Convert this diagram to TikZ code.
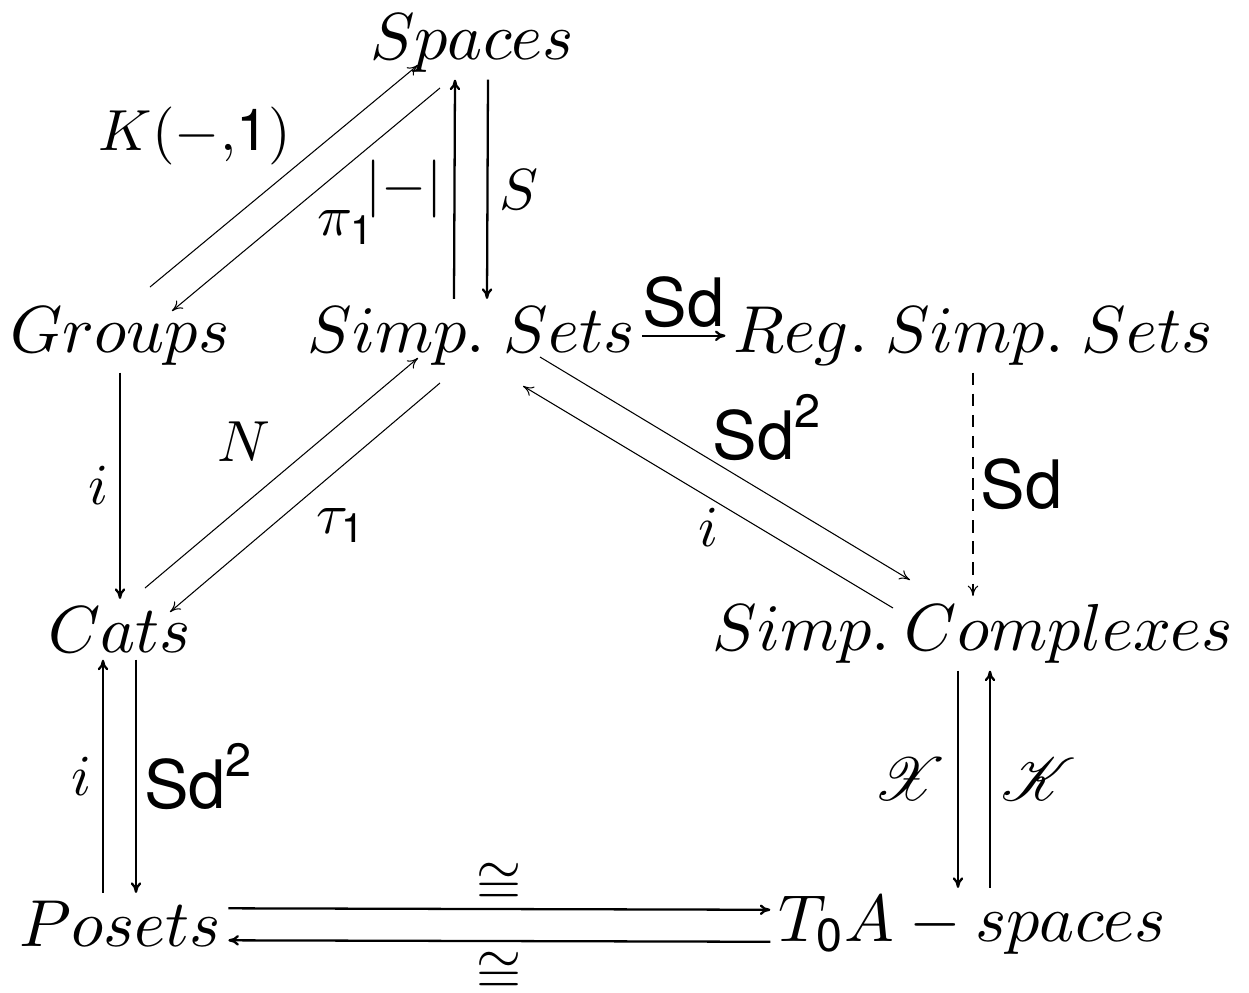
\documentclass[tikz,border=0pt]{standalone}
\usepackage{amsmath,amssymb}
\usepackage{mathrsfs}
\usepackage{fontspec}
\newfontfamily\heros{TeX Gyre Heros}
\newcommand{\hv}[1]{\text{\heros #1}}
% one design size for the big math letters
\DeclareFontShape{OML}{cmm}{m}{it}{<-> cmmi10}{}
\DeclareFontShape{OMS}{cmsy}{m}{n}{<-> cmsy10}{}
\DeclareFontShape{OT1}{cmr}{m}{n}{<-> cmr10}{}
\usetikzlibrary{arrows.meta}

\begin{document}
\begin{tikzpicture}[
    >={To[length=3pt,width=3pt]},
    obj/.style={font=\fontsize{18.9}{22}\selectfont, anchor=base, inner sep=2pt},
    lbl/.style={font=\fontsize{16.5}{19}\selectfont, inner sep=3pt},
    sdlbl/.style={font=\fontsize{19}{22}\selectfont, inner sep=2pt},
    isolbl/.style={font=\fontsize{16.5}{19}\selectfont, inner sep=1pt},
    arr/.style={->, line width=0.65pt},
    diag/.style={->, line width=0.3pt},
]

% Frame
\useasboundingbox (0,0) rectangle (12.49,-9.92);

% --- Objects ---
\node[obj] (spaces) at (4.72,-0.59) {$Spaces$};
\node[obj] (groups) at (1.20,-3.52) {$Groups$};
\node[obj] (simpsets) at (4.71,-3.52) {$Simp.\;Sets$};
\node[obj] (regsets) at (9.73,-3.52) {$Reg.\;Simp.\;Sets$};
\node[obj] (cats) at (1.20,-6.52) {$Cats$};
\node[obj] (complexes) at (9.73,-6.50) {$Simp.\:Complexes$};
\node[obj] (posets) at (1.20,-9.46) {$Posets$};
\node[obj] (tzero) at (9.72,-9.41) {$T_{\hv{0}}A-spaces$};

% --- Top: Spaces ---
\draw[diag] ([shift={(0.30,0.65)}]groups.base) -- node[lbl, above left, xshift=0.18cm] {$K(-{,}\hv{1})$} ([shift={(-0.54,-0.06)}]spaces.base);
\draw[diag] ([shift={(-0.32,-0.29)}]spaces.base) -- node[lbl, below right] {$\pi_{\hv{1}}$} ([shift={(0.52,0.41)}]groups.base);
\draw[arr] ([xshift=-0.17cm]simpsets.north) -- node[lbl, left] {$|{-}|$} ([xshift=-0.17cm]spaces.south);
\draw[arr] ([xshift=0.16cm]spaces.south) -- node[lbl, right] {$S$} ([xshift=0.16cm]simpsets.north);

% --- Middle row ---
\draw[arr] (simpsets.east) -- node[sdlbl, above] {$\hv{Sd}$} (regsets.west);
\draw[arr] (groups.south) -- node[lbl, left] {$i$} (cats.north);
\draw[diag] ([shift={(0.25,0.64)}]cats.base) -- node[lbl, above left] {$N$} ([shift={(-0.53,-0.06)}]simpsets.base);
\draw[diag] ([shift={(-0.31,-0.31)}]simpsets.base) -- node[lbl, below right] {$\tau_{\hv{1}}$} ([shift={(0.50,0.40)}]cats.base);
\draw[diag] ([shift={(0.69,-0.05)}]simpsets.base) -- node[sdlbl, above right, xshift=-0.2cm] {$\hv{Sd}^{\hv{2}}$} ([shift={(-0.63,0.70)}]complexes.base);
\draw[diag] ([shift={(-0.80,0.42)}]complexes.base) -- node[lbl, below] {$i$} ([shift={(0.52,-0.34)}]simpsets.base);
\draw[diag, dashed, dash pattern=on 3.5pt off 2.5pt] (regsets.south) -- node[sdlbl, right] {$\hv{Sd}$} (complexes.north);

% --- Bottom ---
\draw[arr] ([xshift=-0.17cm]posets.north) -- node[lbl, left] {$i$} ([xshift=-0.17cm]cats.south);
\draw[arr] ([xshift=0.16cm]cats.south) -- node[sdlbl, right] {$\hv{Sd}^{\hv{2}}$} ([xshift=0.16cm]posets.north);
\draw[arr] ([xshift=-0.15cm]complexes.south) -- node[lbl, left] {$\mathscr{X}$} ([xshift=-0.14cm]tzero.north);
\draw[arr] ([xshift=0.18cm]tzero.north) -- node[lbl, right] {$\mathscr{K}$} ([xshift=0.17cm]complexes.south);
\draw[arr] ([yshift=0.15cm]posets.east) -- node[isolbl, above] {$\cong$} ([yshift=0.15cm]tzero.west);
\draw[arr] ([yshift=-0.17cm]tzero.west) -- node[isolbl, below, yshift=-0.07cm] {$\cong$} ([yshift=-0.17cm]posets.east);

\end{tikzpicture}
\end{document}
